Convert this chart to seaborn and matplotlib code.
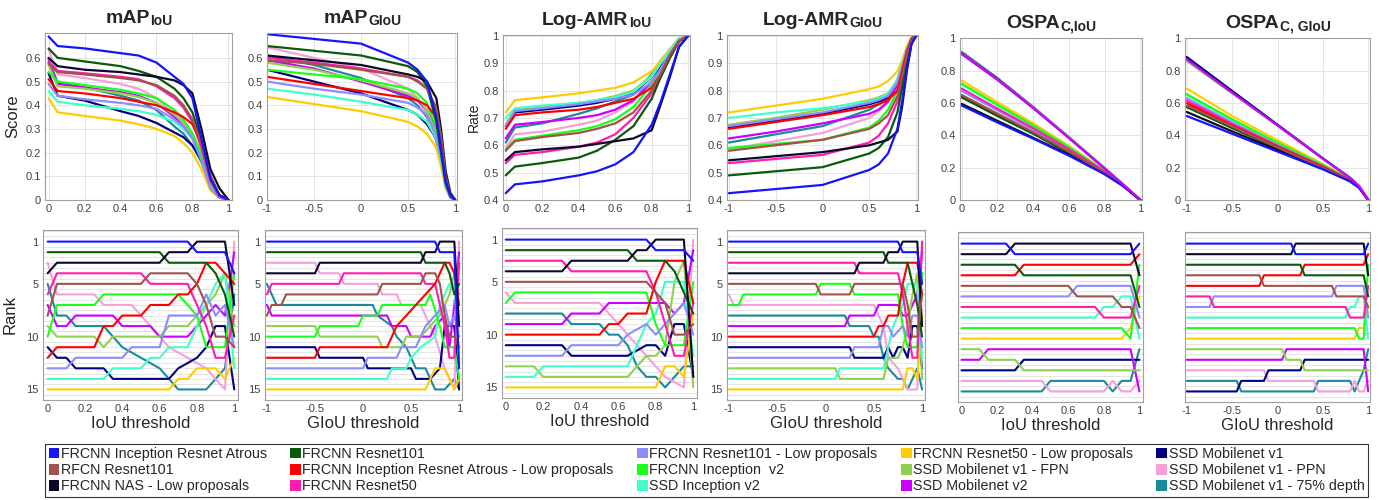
import numpy as np
import pandas as pd
import matplotlib
matplotlib.use("Agg")
import matplotlib.pyplot as plt
from matplotlib.patches import Patch
from matplotlib.ticker import FuncFormatter, MultipleLocator, FixedLocator
from matplotlib.transforms import offset_copy
import seaborn as sns

models = ["FRCNN Inception Resnet Atrous", "RFCN Resnet101", "FRCNN NAS - Low proposals",
          "FRCNN Resnet101", "FRCNN Inception Resnet Atrous - Low proposals", "FRCNN Resnet50",
          "FRCNN Resnet101 - Low proposals", "FRCNN Inception  v2", "SSD Inception v2",
          "FRCNN Resnet50 - Low proposals", "SSD Mobilenet v1 - FPN", "SSD Mobilenet v2",
          "SSD Mobilenet v1", "SSD Mobilenet v1 - PPN", "SSD Mobilenet v1 - 75% depth"]
colors = ["#1414ff", "#a0524b", "#0a0a28", "#0b5a0b", "#ff0000", "#ff1cae",
          "#8c8cff", "#1aff1a", "#40ffc8", "#ffcc00", "#8fd14f", "#cc00ff",
          "#000080", "#f5a0d8", "#1a8c99"]

# ---- top row: metric vs threshold ----
map_iou_x = [0, 0.05, 0.2, 0.4, 0.5, 0.6, 0.7, 0.75, 0.8, 0.85, 0.9, 0.95, 1.0]
map_iou = [
    [0.69, 0.65, 0.64, 0.62, 0.61, 0.58, 0.52, 0.49, 0.43, 0.26, 0.09, 0.02, 0.0],
    [0.575, 0.54, 0.53, 0.515, 0.505, 0.485, 0.44, 0.40, 0.34, 0.24, 0.10, 0.02, 0.0],
    [0.60, 0.565, 0.55, 0.54, 0.53, 0.52, 0.505, 0.485, 0.45, 0.30, 0.13, 0.05, 0.0],
    [0.64, 0.60, 0.585, 0.565, 0.545, 0.52, 0.47, 0.43, 0.37, 0.25, 0.10, 0.02, 0.0],
    [0.51, 0.46, 0.45, 0.43, 0.415, 0.40, 0.37, 0.35, 0.32, 0.24, 0.10, 0.02, 0.0],
    [0.585, 0.545, 0.535, 0.52, 0.51, 0.48, 0.43, 0.39, 0.33, 0.22, 0.08, 0.015, 0.0],
    [0.49, 0.44, 0.425, 0.41, 0.40, 0.385, 0.34, 0.31, 0.26, 0.17, 0.05, 0.01, 0.0],
    [0.54, 0.50, 0.485, 0.465, 0.45, 0.43, 0.38, 0.34, 0.28, 0.19, 0.07, 0.015, 0.0],
    [0.46, 0.415, 0.40, 0.385, 0.375, 0.36, 0.33, 0.30, 0.26, 0.17, 0.06, 0.01, 0.0],
    [0.43, 0.37, 0.355, 0.335, 0.32, 0.30, 0.27, 0.24, 0.20, 0.13, 0.04, 0.01, 0.0],
    [0.57, 0.48, 0.47, 0.45, 0.435, 0.41, 0.36, 0.33, 0.28, 0.20, 0.07, 0.015, 0.0],
    [0.58, 0.49, 0.475, 0.455, 0.44, 0.41, 0.35, 0.31, 0.26, 0.18, 0.07, 0.015, 0.0],
    [0.535, 0.44, 0.42, 0.375, 0.355, 0.325, 0.285, 0.265, 0.23, 0.17, 0.07, 0.02, 0.0],
    [0.635, 0.53, 0.515, 0.49, 0.47, 0.43, 0.36, 0.32, 0.27, 0.18, 0.05, 0.01, 0.0],
    [0.595, 0.495, 0.475, 0.44, 0.42, 0.38, 0.31, 0.28, 0.23, 0.16, 0.06, 0.01, 0.0],
]

map_giou_x = [-1, -0.5, 0, 0.5, 0.6, 0.7, 0.8, 0.85, 0.9, 0.95, 1.0]
map_giou = [
    [0.70, 0.68, 0.66, 0.58, 0.55, 0.50, 0.35, 0.22, 0.08, 0.02, 0.0],
    [0.59, 0.575, 0.55, 0.52, 0.50, 0.47, 0.39, 0.27, 0.10, 0.02, 0.0],
    [0.61, 0.59, 0.57, 0.53, 0.52, 0.50, 0.43, 0.30, 0.12, 0.03, 0.0],
    [0.65, 0.63, 0.61, 0.565, 0.54, 0.48, 0.33, 0.20, 0.07, 0.015, 0.0],
    [0.52, 0.49, 0.46, 0.43, 0.42, 0.40, 0.35, 0.24, 0.09, 0.02, 0.0],
    [0.60, 0.58, 0.555, 0.52, 0.505, 0.47, 0.38, 0.25, 0.09, 0.02, 0.0],
    [0.50, 0.47, 0.445, 0.41, 0.39, 0.36, 0.27, 0.18, 0.06, 0.01, 0.0],
    [0.55, 0.53, 0.51, 0.47, 0.45, 0.41, 0.31, 0.20, 0.07, 0.015, 0.0],
    [0.47, 0.445, 0.415, 0.38, 0.36, 0.33, 0.26, 0.17, 0.06, 0.01, 0.0],
    [0.435, 0.405, 0.375, 0.33, 0.31, 0.28, 0.22, 0.14, 0.05, 0.01, 0.0],
    [0.58, 0.55, 0.505, 0.45, 0.43, 0.38, 0.28, 0.18, 0.07, 0.015, 0.0],
    [0.59, 0.555, 0.50, 0.44, 0.42, 0.38, 0.30, 0.20, 0.07, 0.015, 0.0],
    [0.55, 0.50, 0.45, 0.38, 0.36, 0.32, 0.26, 0.17, 0.07, 0.02, 0.0],
    [0.645, 0.60, 0.555, 0.47, 0.43, 0.36, 0.25, 0.15, 0.05, 0.01, 0.0],
    [0.61, 0.57, 0.515, 0.43, 0.40, 0.35, 0.25, 0.16, 0.06, 0.01, 0.0],
]

amr_iou_x = [0, 0.05, 0.2, 0.4, 0.5, 0.6, 0.7, 0.8, 0.85, 0.9, 0.95, 1.0]
amr_iou = [
    [0.425, 0.457, 0.468, 0.49, 0.505, 0.53, 0.575, 0.675, 0.76, 0.86, 0.96, 1.0],
    [0.58, 0.615, 0.63, 0.645, 0.66, 0.68, 0.72, 0.80, 0.86, 0.93, 0.98, 1.0],
    [0.545, 0.575, 0.585, 0.595, 0.605, 0.615, 0.625, 0.655, 0.75, 0.85, 0.96, 1.0],
    [0.49, 0.522, 0.535, 0.555, 0.58, 0.62, 0.67, 0.77, 0.85, 0.92, 0.98, 1.0],
    [0.66, 0.71, 0.72, 0.73, 0.74, 0.755, 0.77, 0.81, 0.86, 0.93, 0.98, 1.0],
    [0.535, 0.565, 0.575, 0.595, 0.61, 0.64, 0.70, 0.79, 0.85, 0.92, 0.98, 1.0],
    [0.67, 0.725, 0.735, 0.75, 0.76, 0.77, 0.785, 0.83, 0.88, 0.935, 0.985, 1.0],
    [0.585, 0.62, 0.635, 0.655, 0.67, 0.695, 0.74, 0.82, 0.87, 0.93, 0.98, 1.0],
    [0.70, 0.735, 0.745, 0.755, 0.765, 0.775, 0.795, 0.85, 0.90, 0.945, 0.99, 1.0],
    [0.72, 0.765, 0.775, 0.79, 0.80, 0.81, 0.83, 0.87, 0.91, 0.95, 0.99, 1.0],
    [0.675, 0.73, 0.74, 0.755, 0.765, 0.78, 0.80, 0.855, 0.90, 0.945, 0.99, 1.0],
    [0.625, 0.675, 0.685, 0.70, 0.71, 0.73, 0.765, 0.83, 0.88, 0.93, 0.985, 1.0],
    [0.67, 0.72, 0.73, 0.745, 0.755, 0.77, 0.79, 0.85, 0.89, 0.94, 0.985, 1.0],
    [0.59, 0.64, 0.65, 0.675, 0.69, 0.72, 0.76, 0.84, 0.89, 0.94, 0.985, 1.0],
    [0.61, 0.665, 0.68, 0.715, 0.735, 0.76, 0.785, 0.86, 0.91, 0.95, 0.99, 1.0],
]

amr_giou_x = [-1, -0.5, 0, 0.5, 0.6, 0.7, 0.8, 0.85, 0.9, 0.95, 1.0]
amr_giou = [
    [0.425, 0.44, 0.455, 0.51, 0.53, 0.57, 0.66, 0.76, 0.88, 0.97, 1.0],
    [0.58, 0.60, 0.62, 0.66, 0.68, 0.71, 0.78, 0.85, 0.93, 0.985, 1.0],
    [0.545, 0.56, 0.575, 0.60, 0.61, 0.62, 0.65, 0.74, 0.87, 0.97, 1.0],
    [0.49, 0.505, 0.52, 0.57, 0.59, 0.63, 0.72, 0.81, 0.91, 0.98, 1.0],
    [0.66, 0.685, 0.71, 0.74, 0.75, 0.765, 0.80, 0.87, 0.94, 0.99, 1.0],
    [0.535, 0.55, 0.565, 0.61, 0.635, 0.68, 0.76, 0.83, 0.92, 0.98, 1.0],
    [0.67, 0.695, 0.72, 0.755, 0.765, 0.78, 0.83, 0.885, 0.95, 0.99, 1.0],
    [0.59, 0.605, 0.62, 0.665, 0.69, 0.73, 0.80, 0.87, 0.94, 0.99, 1.0],
    [0.70, 0.72, 0.735, 0.76, 0.77, 0.785, 0.84, 0.89, 0.95, 0.99, 1.0],
    [0.72, 0.745, 0.77, 0.805, 0.815, 0.835, 0.87, 0.91, 0.96, 0.995, 1.0],
    [0.675, 0.70, 0.73, 0.765, 0.775, 0.79, 0.84, 0.895, 0.95, 0.99, 1.0],
    [0.625, 0.65, 0.68, 0.715, 0.73, 0.76, 0.82, 0.88, 0.95, 0.99, 1.0],
    [0.665, 0.69, 0.715, 0.75, 0.76, 0.775, 0.82, 0.88, 0.945, 0.99, 1.0],
    [0.585, 0.615, 0.645, 0.70, 0.725, 0.755, 0.83, 0.89, 0.95, 0.99, 1.0],
    [0.61, 0.64, 0.67, 0.73, 0.75, 0.775, 0.84, 0.90, 0.955, 0.99, 1.0],
]

ospa_iou_x = [0, 0.2, 0.4, 0.6, 0.8, 0.9, 1.0]
ospa_iou = [
    [0.585, 0.48, 0.38, 0.275, 0.16, 0.09, 0.0],
    [0.65, 0.535, 0.42, 0.30, 0.17, 0.095, 0.0],
    [0.595, 0.49, 0.385, 0.28, 0.162, 0.09, 0.0],
    [0.635, 0.52, 0.41, 0.29, 0.165, 0.095, 0.0],
    [0.64, 0.525, 0.415, 0.295, 0.167, 0.095, 0.0],
    [0.69, 0.565, 0.445, 0.315, 0.177, 0.10, 0.0],
    [0.675, 0.555, 0.435, 0.31, 0.175, 0.10, 0.0],
    [0.72, 0.59, 0.462, 0.327, 0.18, 0.10, 0.0],
    [0.715, 0.585, 0.46, 0.325, 0.18, 0.10, 0.0],
    [0.74, 0.605, 0.475, 0.335, 0.183, 0.10, 0.0],
    [0.905, 0.745, 0.57, 0.385, 0.195, 0.10, 0.0],
    [0.903, 0.744, 0.569, 0.384, 0.195, 0.10, 0.0],
    [0.91, 0.75, 0.572, 0.386, 0.196, 0.10, 0.0],
    [0.915, 0.752, 0.575, 0.388, 0.197, 0.10, 0.0],
    [0.918, 0.755, 0.577, 0.39, 0.198, 0.10, 0.0],
]

ospa_giou_x = [-1, -0.5, 0, 0.5, 0.8, 0.9, 1.0]
ospa_giou = [
    [0.52, 0.41, 0.30, 0.19, 0.115, 0.075, 0.0],
    [0.585, 0.455, 0.325, 0.20, 0.12, 0.08, 0.0],
    [0.545, 0.425, 0.31, 0.195, 0.117, 0.077, 0.0],
    [0.575, 0.445, 0.32, 0.198, 0.119, 0.078, 0.0],
    [0.60, 0.46, 0.33, 0.205, 0.122, 0.08, 0.0],
    [0.615, 0.47, 0.335, 0.207, 0.124, 0.081, 0.0],
    [0.63, 0.48, 0.34, 0.21, 0.125, 0.082, 0.0],
    [0.655, 0.50, 0.355, 0.217, 0.128, 0.083, 0.0],
    [0.65, 0.495, 0.35, 0.215, 0.127, 0.083, 0.0],
    [0.69, 0.52, 0.37, 0.222, 0.13, 0.085, 0.0],
    [0.86, 0.66, 0.46, 0.255, 0.135, 0.085, 0.0],
    [0.87, 0.665, 0.462, 0.256, 0.136, 0.085, 0.0],
    [0.885, 0.675, 0.466, 0.258, 0.137, 0.086, 0.0],
    [0.875, 0.668, 0.463, 0.257, 0.136, 0.085, 0.0],
    [0.88, 0.671, 0.464, 0.257, 0.137, 0.086, 0.0],
]

# ---- bottom row: rank vs threshold, (threshold, rank) where the rank changes ----
rank_map_iou = [
    [(0, 1), (0.75, 1), (0.8, 2), (0.95, 2), (1, 4)],
    [(0, 8), (0.05, 5), (0.5, 5), (0.55, 4), (0.75, 4), (0.8, 5), (0.85, 7), (0.9, 10), (0.95, 10), (1, 11)],
    [(0, 4), (0.05, 3), (0.6, 3), (0.65, 2), (0.75, 2), (0.8, 1), (0.95, 1), (1, 7)],
    [(0, 2), (0.6, 2), (0.65, 3), (0.85, 3), (0.9, 4), (0.95, 6), (1, 10)],
    [(0, 12), (0.05, 11), (0.25, 11), (0.3, 9), (0.35, 9), (0.4, 8), (0.5, 8), (0.55, 7), (0.65, 7), (0.7, 6), (0.75, 6), (0.8, 5), (0.85, 3), (0.9, 3), (0.95, 4), (1, 5)],
    [(0, 6), (0.05, 4), (0.5, 4), (0.55, 5), (0.75, 5), (0.8, 7), (0.85, 9), (0.9, 12), (0.95, 12), (1, 8)],
    [(0, 13), (0.1, 13), (0.15, 12), (0.4, 12), (0.45, 11), (0.6, 11), (0.65, 8), (0.8, 8), (0.85, 6), (0.9, 8), (0.95, 7), (1, 11)],
    [(0, 10), (0.05, 7), (0.25, 7), (0.3, 6), (0.7, 6), (0.75, 7), (0.8, 8), (0.85, 11), (0.95, 11), (1, 4)],
    [(0, 14), (0.3, 14), (0.35, 13), (0.5, 13), (0.55, 12), (0.6, 12), (0.65, 11), (0.75, 11), (0.8, 9), (0.85, 7), (0.9, 5), (0.95, 4), (1, 13)],
    [(0, 15), (0.65, 15), (0.7, 14), (0.75, 14), (0.8, 13), (0.9, 13), (0.95, 14), (1, 12)],
    [(0, 9), (0.05, 10), (0.25, 10), (0.3, 11), (0.35, 10), (0.6, 10), (0.65, 9), (0.75, 9), (0.8, 8), (0.85, 7), (0.9, 6), (0.95, 4), (1, 9)],
    [(0, 7), (0.05, 9), (0.1, 9), (0.15, 8), (0.35, 8), (0.4, 9), (0.55, 9), (0.6, 10), (0.75, 10), (0.8, 9), (0.85, 8), (0.9, 7), (0.95, 8), (1, 2)],
    [(0, 11), (0.05, 12), (0.1, 12), (0.15, 13), (0.3, 13), (0.35, 14), (0.65, 14), (0.7, 13), (0.8, 12), (0.85, 11), (0.9, 9), (0.95, 9), (1, 15)],
    [(0, 3), (0.05, 6), (0.25, 6), (0.3, 7), (0.45, 7), (0.5, 8), (0.55, 9), (0.6, 10), (0.65, 11), (0.75, 12), (0.85, 13), (0.9, 14), (0.95, 15), (1, 1)],
    [(0, 5), (0.05, 8), (0.1, 8), (0.15, 9), (0.3, 9), (0.35, 10), (0.4, 11), (0.5, 12), (0.6, 13), (0.65, 14), (0.7, 15), (0.85, 15), (0.95, 13), (1, 6)],
]

rank_map_giou = [
    [(-1, 1), (0.75, 1), (0.8, 2), (0.95, 2), (1, 13)],
    [(-1, 8), (-0.95, 7), (-0.85, 7), (-0.8, 6), (0.15, 6), (0.2, 5), (0.6, 5), (0.65, 4), (0.75, 4), (0.8, 5), (0.85, 8), (0.9, 10), (0.95, 10), (1, 11)],
    [(-1, 4), (-0.5, 4), (-0.45, 3), (0.6, 3), (0.65, 2), (0.75, 2), (0.8, 1), (0.95, 1), (1, 9)],
    [(-1, 2), (0.6, 2), (0.65, 3), (0.85, 3), (0.9, 4), (0.95, 6), (1, 5)],
    [(-1, 12), (-0.5, 12), (-0.45, 11), (0.25, 11), (0.3, 10), (0.35, 9), (0.45, 8), (0.55, 7), (0.65, 6), (0.75, 5), (0.85, 3), (0.9, 3), (0.95, 4), (1, 7)],
    [(-1, 6), (-0.95, 5), (-0.25, 5), (-0.2, 4), (0.6, 4), (0.65, 5), (0.75, 5), (0.8, 7), (0.85, 9), (0.9, 12), (0.95, 12), (1, 3)],
    [(-1, 13), (0.0, 13), (0.05, 12), (0.35, 12), (0.4, 11), (0.55, 11), (0.65, 9), (0.75, 8), (0.85, 7), (0.9, 9), (0.95, 8), (1, 10)],
    [(-1, 10), (-0.5, 10), (-0.45, 9), (-0.05, 9), (0.0, 8), (0.15, 8), (0.2, 7), (0.65, 7), (0.7, 6), (0.8, 9), (0.85, 11), (0.95, 11), (1, 14)],
    [(-1, 14), (0.25, 14), (0.3, 13), (0.45, 13), (0.5, 12), (0.6, 11), (0.75, 10), (0.8, 7), (0.9, 5), (0.95, 5), (1, 12)],
    [(-1, 15), (0.65, 15), (0.7, 14), (0.75, 13), (0.85, 13), (0.9, 14), (0.95, 15), (1, 14)],
    [(-1, 9), (-0.5, 9), (-0.45, 10), (0.15, 10), (0.2, 11), (0.4, 11), (0.45, 10), (0.6, 10), (0.7, 9), (0.8, 8), (0.9, 6), (0.95, 4), (1, 6)],
    [(-1, 7), (-0.95, 8), (0.25, 8), (0.3, 9), (0.45, 9), (0.5, 10), (0.7, 10), (0.75, 9), (0.85, 8), (0.9, 11), (0.95, 7), (1, 2)],
    [(-1, 11), (-0.5, 11), (-0.45, 12), (0.0, 12), (0.05, 13), (0.5, 13), (0.55, 14), (0.7, 14), (0.8, 13), (0.85, 9), (0.95, 9), (1, 15)],
    [(-1, 3), (-0.5, 3), (-0.45, 4), (-0.25, 4), (-0.2, 5), (0.15, 5), (0.2, 6), (0.35, 6), (0.4, 7), (0.6, 7), (0.65, 8), (0.75, 10), (0.85, 13), (0.9, 14), (0.95, 15), (1, 1)],
    [(-1, 5), (-0.95, 6), (-0.9, 7), (0.1, 7), (0.15, 8), (0.3, 9), (0.35, 10), (0.45, 11), (0.5, 12), (0.55, 13), (0.65, 13), (0.7, 14), (0.75, 15), (0.85, 15), (0.95, 14), (1, 15)],
]

rank_amr_iou = [
    [(0, 1), (0.75, 1), (0.8, 2), (0.95, 2), (1, 3)],
    [(0, 5), (0.75, 5), (0.8, 6), (0.85, 7), (0.9, 10), (0.95, 10), (1, 9)],
    [(0, 4), (0.3, 4), (0.35, 3), (0.65, 3), (0.7, 2), (0.75, 2), (0.8, 1), (0.95, 1), (1, 14)],
    [(0, 2), (0.65, 2), (0.7, 3), (0.85, 3), (0.9, 4), (0.95, 6), (1, 8)],
    [(0, 10), (0.5, 10), (0.55, 9), (0.6, 9), (0.65, 8), (0.75, 8), (0.8, 5), (0.85, 3), (0.9, 3), (0.95, 3), (1, 7)],
    [(0, 3), (0.3, 3), (0.35, 4), (0.75, 4), (0.8, 6), (0.85, 9), (0.9, 12), (0.95, 12), (1, 7)],
    [(0, 12), (0.3, 12), (0.35, 11), (0.6, 11), (0.65, 10), (0.75, 9), (0.8, 10), (0.85, 9), (0.9, 8), (0.95, 7), (1, 10)],
    [(0, 7), (0.05, 6), (0.75, 6), (0.8, 9), (0.85, 11), (0.95, 11), (1, 5)],
    [(0, 14), (0.15, 14), (0.2, 13), (0.65, 13), (0.7, 11), (0.75, 9), (0.8, 8), (0.85, 5), (0.9, 5), (0.95, 5), (1, 12)],
    [(0, 15), (0.8, 15), (0.85, 13), (0.9, 13), (0.95, 14), (1, 8)],
    [(0, 13), (0.15, 13), (0.2, 14), (0.65, 14), (0.7, 13), (0.75, 12), (0.8, 12), (0.85, 11), (0.9, 5), (0.95, 3), (1, 15)],
    [(0, 9), (0.3, 9), (0.35, 8), (0.5, 8), (0.55, 7), (0.85, 7), (0.9, 8), (0.95, 7), (1, 2)],
    [(0, 11), (0.3, 11), (0.35, 12), (0.65, 12), (0.75, 11), (0.8, 11), (0.85, 12), (0.9, 9), (0.95, 9), (1, 14)],
    [(0, 6), (0.05, 7), (0.5, 7), (0.55, 8), (0.6, 9), (0.65, 10), (0.7, 11), (0.75, 12), (0.85, 14), (0.95, 15), (1, 1)],
    [(0, 8), (0.3, 8), (0.35, 9), (0.5, 9), (0.55, 10), (0.6, 10), (0.65, 11), (0.7, 13), (0.75, 14), (0.8, 14), (0.85, 15), (0.9, 14), (0.95, 13), (1, 13)],
]

rank_amr_giou = [
    [(-1, 1), (0.75, 1), (0.8, 2), (0.95, 2), (1, 5)],
    [(-1, 5), (-0.1, 5), (-0.05, 6), (0.25, 6), (0.3, 5), (0.8, 5), (0.85, 7), (0.9, 10), (0.95, 10), (1, 6)],
    [(-1, 4), (0.3, 4), (0.35, 3), (0.6, 3), (0.65, 2), (0.75, 2), (0.8, 1), (0.95, 1), (1, 9)],
    [(-1, 2), (0.6, 2), (0.65, 3), (0.85, 3), (0.9, 5), (0.95, 7), (1, 10)],
    [(-1, 10), (0.5, 10), (0.55, 9), (0.6, 9), (0.65, 8), (0.75, 8), (0.8, 5), (0.85, 3), (0.9, 3), (0.95, 3), (1, 6)],
    [(-1, 3), (0.3, 3), (0.35, 4), (0.75, 4), (0.8, 6), (0.85, 9), (0.9, 12), (0.95, 12), (1, 1)],
    [(-1, 12), (0.25, 12), (0.3, 11), (0.55, 11), (0.6, 9), (0.65, 9), (0.7, 10), (0.8, 9), (0.85, 10), (0.9, 8), (0.95, 8), (1, 11)],
    [(-1, 7), (-0.9, 7), (-0.85, 6), (-0.1, 6), (-0.05, 5), (0.25, 5), (0.3, 6), (0.75, 6), (0.8, 9), (0.85, 11), (0.95, 11), (1, 4)],
    [(-1, 14), (0.1, 14), (0.15, 13), (0.6, 13), (0.65, 11), (0.7, 9), (0.8, 7), (0.85, 5), (0.95, 5), (1, 12)],
    [(-1, 15), (0.8, 15), (0.85, 13), (0.9, 13), (0.95, 14), (1, 8)],
    [(-1, 13), (0.1, 13), (0.15, 14), (0.6, 14), (0.65, 12), (0.75, 12), (0.8, 11), (0.85, 9), (0.9, 6), (0.95, 4), (1, 14)],
    [(-1, 9), (0.2, 9), (0.25, 8), (0.5, 8), (0.55, 7), (0.75, 7), (0.8, 8), (0.85, 8), (0.9, 7), (0.95, 6), (1, 2)],
    [(-1, 11), (0.25, 11), (0.3, 12), (0.6, 12), (0.65, 11), (0.7, 12), (0.75, 11), (0.8, 11), (0.85, 12), (0.9, 9), (0.95, 9), (1, 13)],
    [(-1, 6), (-0.95, 7), (0.5, 7), (0.55, 8), (0.6, 9), (0.65, 12), (0.75, 13), (0.8, 14), (0.85, 15), (0.95, 15), (1, 1)],
    [(-1, 8), (0.2, 8), (0.25, 9), (0.45, 9), (0.5, 10), (0.55, 10), (0.6, 12), (0.65, 13), (0.75, 14), (0.8, 14), (0.85, 15), (0.9, 14), (0.95, 13), (1, 15)],
]

rank_ospa_iou = [
    [(0, 1), (0.25, 1), (0.3, 2), (0.95, 2), (1, 1)],
    [(0, 5), (0.6, 5), (0.65, 6), (0.85, 6), (0.9, 7), (0.95, 7), (1, 9)],
    [(0, 2), (0.25, 2), (0.3, 1), (0.95, 1), (1, 4)],
    [(0, 3), (0.3, 3), (0.35, 4), (0.95, 4), (1, 7)],
    [(0, 4), (0.3, 4), (0.35, 3), (0.95, 3), (1, 2)],
    [(0, 7), (0.75, 7), (0.8, 8), (0.95, 8), (1, 5)],
    [(0, 6), (0.6, 6), (0.65, 5), (0.95, 5), (1, 8)],
    [(0, 9), (0.9, 9), (0.95, 10), (1, 3)],
    [(0, 8), (0.75, 8), (0.8, 7), (0.85, 7), (0.9, 6), (0.95, 6), (1, 10)],
    [(0, 10), (0.9, 10), (0.95, 9), (1, 6)],
    [(0, 11), (0.1, 11), (0.15, 12), (0.3, 12), (0.35, 13), (1, 13)],
    [(0, 12), (0.1, 12), (0.15, 11), (0.95, 11), (1, 15)],
    [(0, 13), (0.3, 13), (0.35, 12), (1, 12)],
    [(0, 14), (0.45, 14), (0.5, 15), (0.8, 15), (0.85, 14), (0.9, 15), (0.95, 15), (1, 14)],
    [(0, 15), (0.45, 15), (0.5, 14), (0.8, 14), (0.85, 15), (0.9, 14), (0.95, 14), (1, 11)],
]

rank_ospa_giou = [
    [(-1, 1), (0.15, 1), (0.2, 2), (0.95, 2), (1, 1)],
    [(-1, 4), (-0.2, 4), (-0.15, 5), (0.6, 5), (0.65, 6), (0.95, 6), (1, 7)],
    [(-1, 2), (0.15, 2), (0.2, 1), (0.95, 1), (1, 4)],
    [(-1, 3), (0.25, 3), (0.3, 4), (0.95, 4), (1, 6)],
    [(-1, 5), (-0.2, 5), (-0.15, 4), (0.25, 4), (0.3, 3), (0.95, 3), (1, 2)],
    [(-1, 6), (-0.75, 6), (-0.7, 7), (0.75, 7), (0.8, 8), (0.95, 8), (1, 5)],
    [(-1, 7), (-0.75, 7), (-0.7, 6), (0.6, 6), (0.65, 5), (0.95, 5), (1, 8)],
    [(-1, 9), (0.85, 9), (0.9, 10), (0.95, 10), (1, 3)],
    [(-1, 8), (0.75, 8), (0.8, 7), (0.85, 7), (0.9, 6), (0.95, 6), (1, 10)],
    [(-1, 10), (0.85, 10), (0.9, 9), (0.95, 9), (1, 7)],
    [(-1, 11), (0.05, 11), (0.1, 12), (0.25, 12), (0.3, 13), (1, 13)],
    [(-1, 12), (0.05, 12), (0.1, 11), (0.95, 11), (1, 15)],
    [(-1, 15), (-0.45, 15), (-0.4, 14), (-0.15, 14), (-0.1, 13), (0.25, 13), (0.3, 12), (1, 12)],
    [(-1, 13), (-0.15, 13), (-0.1, 14), (0.4, 14), (0.45, 15), (0.8, 15), (0.85, 14), (0.9, 15), (0.95, 15), (1, 14)],
    [(-1, 14), (-0.45, 14), (-0.4, 15), (0.4, 15), (0.45, 14), (0.8, 14), (0.85, 15), (0.9, 14), (0.95, 13), (1, 11)],
]

sns.set_style("white")
plt.rcParams['font.family'] = ['Liberation Sans', 'DejaVu Sans']
plt.rcParams['axes.unicode_minus'] = False

W, H = 1381, 500
fig = plt.figure(figsize=(W / 100, H / 100), dpi=100)
renderer = fig.canvas.get_renderer()
palette = dict(zip(models, colors))
fmt = FuncFormatter(lambda v, p: f"{v + 0:g}")


def px_axes(l, t, r, b):
    return fig.add_axes([l / W, 1 - b / H, (r - l) / W, (b - t) / H])


def style(ax):
    for s in ax.spines.values():
        s.set_color('#a0a0a0')
        s.set_linewidth(0.8)
    ax.tick_params(length=0, labelsize=8, colors='#404040', pad=3)
    ax.xaxis.set_major_formatter(fmt)
    ax.yaxis.set_major_formatter(fmt)
    ax.set_axisbelow(True)


def title(ax, main, sub):
    # bold title with a bold subscript, centred over the axes as a whole
    s = fig.text(0, 0, sub, fontsize=10, fontweight='bold')
    w_sub = s.get_window_extent(renderer).width
    s.remove()
    tr = offset_copy(ax.transAxes, fig=fig, x=-w_sub / 2 * 72 / 100, y=7, units='points')
    t = ax.text(0.5, 1.0, main, transform=tr, ha='center', va='baseline',
                fontsize=14, fontweight='bold')
    ax.annotate(sub, xy=(1, 0), xycoords=t, xytext=(0.5, 1.5), textcoords='offset points',
                ha='left', va='baseline', fontsize=10, fontweight='bold')


def draw(ax, frames, order, lw):
    df = pd.concat([frames[i] for i in order], ignore_index=True)
    sns.lineplot(data=df, x='x', y='y', hue='model', hue_order=[models[i] for i in order],
                 palette=palette, estimator=None, sort=False, legend=False, ax=ax, linewidth=lw)
    ax.set_xlabel('')
    ax.set_ylabel('')


def curve_frames(xs, ys):
    return [pd.DataFrame({'model': models[i], 'x': xs, 'y': ys[i]}) for i in range(len(models))]


def rank_frames(paths):
    return [pd.DataFrame({'model': models[i], 'x': [p[0] for p in paths[i]],
                          'y': [p[1] for p in paths[i]]}) for i in range(len(models))]


back_order = list(range(14, -1, -1))
ospa_order = [i for i in back_order if i != 11] + [11]

top_specs = [
    ((45, 33, 232, 200), map_iou_x, map_iou, ('mAP', 'IoU'), (-0.02, 1.02), (0, 0.705), 0.2, np.arange(0, 0.61, 0.1), back_order),
    ((267, 33, 457, 200), map_giou_x, map_giou, ('mAP', 'GIoU'), (-1.0, 1.02), (0, 0.705), 0.5, np.arange(0, 0.61, 0.1), back_order),
    ((503, 35, 690, 200), amr_iou_x, amr_iou, ('Log-AMR', 'IoU'), (-0.015, 1.01), (0.4, 1.003), 0.2, np.arange(0.4, 1.01, 0.1), back_order),
    ((727, 35, 918, 200), amr_giou_x, amr_giou, ('Log-AMR', 'GIoU'), (-1.02, 1.02), (0.4, 1.003), 0.5, np.arange(0.4, 1.01, 0.1), back_order),
    ((960, 38, 1142, 200), ospa_iou_x, ospa_iou, ('OSPA', 'C,IoU'), (-0.01, 1.01), (0, 1.003), 0.2, np.arange(0, 1.01, 0.2), ospa_order),
    ((1185, 38, 1370, 200), ospa_giou_x, ospa_giou, ('OSPA', 'C, GIoU'), (-1.02, 1.02), (0, 1.003), 0.5, np.arange(0, 1.01, 0.2), ospa_order),
]

for k, (box, xs, ys, ttl, xl, yl, xstep, yticks, order) in enumerate(top_specs):
    ax = px_axes(*box)
    draw(ax, curve_frames(xs, ys), order, 1.6)
    ax.set_xlim(*xl)
    ax.set_ylim(*yl)
    ax.xaxis.set_major_locator(MultipleLocator(xstep))
    ax.yaxis.set_major_locator(FixedLocator(yticks))
    ax.grid(True, color='#e4e4e4', linewidth=0.7)
    style(ax)
    title(ax, *ttl)
    if k == 0:
        ax.set_ylabel('Score', fontsize=12, labelpad=4)
    if k == 2:
        ax.set_ylabel('Rate', fontsize=10, labelpad=2)

bottom_specs = [
    ((43, 230, 238, 400), rank_map_iou, (-0.025, 1.02), 0.2, 'IoU threshold', True),
    ((265, 230, 462, 400), rank_map_giou, (-1.02, 1.03), 0.5, 'GIoU threshold', True),
    ((502, 228, 697, 398), rank_amr_iou, (-0.02, 1.02), 0.2, 'IoU threshold', True),
    ((727, 230, 925, 400), rank_amr_giou, (-1.02, 1.03), 0.5, 'GIoU threshold', True),
    ((958, 232, 1143, 402), rank_ospa_iou, (-0.02, 1.02), 0.2, 'IoU threshold', False),
    ((1185, 232, 1370, 402), rank_ospa_giou, (-1.02, 1.02), 0.5, 'GIoU threshold', False),
]

for k, (box, paths, xl, xstep, xlabel, ylabels) in enumerate(bottom_specs):
    ax = px_axes(*box)
    draw(ax, rank_frames(paths), back_order, 1.5)
    ax.set_xlim(*xl)
    ax.set_ylim(16.0, -0.1)
    ax.xaxis.set_major_locator(MultipleLocator(xstep))
    ax.yaxis.set_major_locator(FixedLocator([1, 5, 10, 15]))
    ax.yaxis.set_minor_locator(MultipleLocator(0.5))
    ax.grid(False)
    ax.grid(True, which='minor', axis='y', color='#e4e4e4', linewidth=0.7)
    style(ax)
    ax.tick_params(which='minor', length=0)
    if not ylabels:
        ax.set_yticklabels([])
    ax.set_xlabel(xlabel, fontsize=12, labelpad=1)
    if k == 0:
        ax.set_ylabel('Rank', fontsize=12, labelpad=6)

handles = [Patch(facecolor=c, edgecolor='none', label=n) for n, c in zip(models, colors)]
leg = fig.legend(handles=handles, loc='lower left', bbox_to_anchor=(45 / W, 3 / H, 1323 / W, 54 / H),
                 mode='expand', ncol=5, fontsize=10.3, frameon=True, fancybox=False, edgecolor='black',
                 handlelength=0.75, handleheight=0.75, handletextpad=0.1, labelspacing=0.15,
                 borderaxespad=0, borderpad=0.25, columnspacing=1.0)
leg.get_frame().set_linewidth(0.8)

fig.savefig('out.png', dpi=100)
